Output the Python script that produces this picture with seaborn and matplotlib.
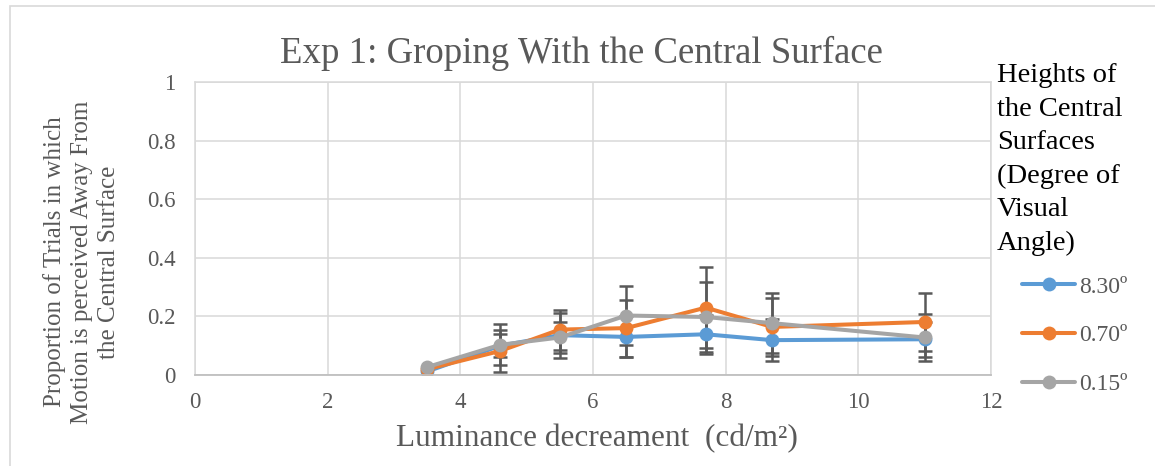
import numpy as np
import pandas as pd
import matplotlib
matplotlib.use("Agg")
import matplotlib.pyplot as plt
from matplotlib.patches import Rectangle
from matplotlib.ticker import FuncFormatter
import seaborn as sns

# Luminance decrement levels (cd/m^2)
luminance = [3.5, 4.6, 5.5, 6.5, 7.7, 8.7, 11.0]

# Proportion of "away" responses and their error bars, one array per surface height
away_830 = [0.012, 0.100, 0.136, 0.130, 0.139, 0.119, 0.122]
err_830 = [0.0, 0.040, 0.077, 0.070, 0.066, 0.072, 0.060]
away_070 = [0.020, 0.082, 0.155, 0.160, 0.230, 0.164, 0.181]
err_070 = [0.0, 0.072, 0.068, 0.097, 0.139, 0.098, 0.098]
away_015 = [0.027, 0.103, 0.128, 0.203, 0.198, 0.177, 0.128]
err_015 = [0.0, 0.070, 0.054, 0.102, 0.121, 0.103, 0.080]

series_names = ["8.30º", "0.70º", "0.15º"]
series_colors = ["#5B9BD5", "#ED7D31", "#A5A5A5"]

x_ticks = [0, 2, 4, 6, 8, 10, 12]
y_ticks = [0, 0.2, 0.4, 0.6, 0.8, 1.0]

title = "Exp 1: Groping With the Central Surface"
x_label = "Luminance decreament  (cd/m²)"
y_label = "Proportion of Trials in which\nMotion is perceived Away From\nthe Central Surface"
legend_title = "Heights of\nthe Central\nSurfaces\n(Degree of\nVisual\nAngle)"

# Long-form table for seaborn
values = [away_830, away_070, away_015]
errors = [err_830, err_070, err_015]
df = pd.DataFrame({
    "luminance": luminance * 3,
    "proportion": away_830 + away_070 + away_015,
    "height": sum([[n] * len(luminance) for n in series_names], []),
})

sns.set_theme(style="white")
plt.rcParams["font.family"] = ["Liberation Serif", "DejaVu Serif"]

TEXT_GRAY = "#595959"
GRID_GRAY = "#D9D9D9"

fig = plt.figure(figsize=(11.55, 4.66), dpi=100)
ax = fig.add_axes([195 / 1155, 1 - 375 / 466, (991 - 195) / 1155, (375 - 82) / 466])

# Error bars sit underneath the series lines
for ys, es in zip(values, errors):
    xs_arr = np.asarray(luminance)
    ys_arr = np.asarray(ys)
    es_arr = np.asarray(es)
    m = es_arr > 0
    ax.errorbar(xs_arr[m], ys_arr[m], yerr=es_arr[m], fmt="none",
                ecolor=TEXT_GRAY, elinewidth=1.8, capsize=4.8, capthick=1.8,
                zorder=1.5)

sns.lineplot(data=df, x="luminance", y="proportion", hue="height",
             hue_order=series_names, palette=series_colors,
             marker="o", markersize=10, markeredgewidth=0, linewidth=2.9,
             ax=ax, zorder=2)

ax.set_xlim(0, 12)
ax.set_ylim(0, 1)
ax.set_xticks(x_ticks)
ax.set_yticks(y_ticks)
ax.yaxis.set_major_formatter(FuncFormatter(lambda v, p: f"{v:g}"))
ax.grid(True, color=GRID_GRAY, linewidth=1.1)
ax.set_axisbelow(True)
for side in ["top", "right", "left"]:
    ax.spines[side].set_color(GRID_GRAY)
    ax.spines[side].set_linewidth(1.1)
ax.spines["bottom"].set_color("#BFBFBF")
ax.spines["bottom"].set_linewidth(1.3)
ax.tick_params(axis="both", length=0, labelsize=16.5, labelcolor=TEXT_GRAY)
ax.tick_params(axis="y", pad=14)
ax.tick_params(axis="x", pad=12)

ax.set_xlabel(x_label, fontsize=22.5, color=TEXT_GRAY)
ax.xaxis.set_label_coords(0.505, -0.168)
ax.set_ylabel(y_label, fontsize=18, color=TEXT_GRAY, linespacing=1.3)
ax.yaxis.label.set_va("center")
ax.yaxis.set_label_coords(-0.143, 0.386)

fig.text(581 / 1155, 1 - 63 / 466, title, ha="center", va="baseline",
         fontsize=26.5, color=TEXT_GRAY)

# Legend: title block plus series entries
fig.text(997 / 1155, 1 - 63 / 466, legend_title, ha="left", va="top",
         fontsize=20.5, color="black", linespacing=1.45)
sns.move_legend(ax, "upper left", bbox_to_anchor=(1022 / 1155, 1 - 276 / 466),
                bbox_transform=fig.transFigure, title=None, frameon=False,
                fontsize=17, labelcolor=TEXT_GRAY, handlelength=2.25,
                handletextpad=0.15, labelspacing=1.15, borderpad=0,
                borderaxespad=0)

# Outer chart frame
fig.add_artist(Rectangle((10 / 1155, -0.05), 1.2, 1 - 6 / 466 + 0.05,
                         transform=fig.transFigure, fill=False,
                         edgecolor=GRID_GRAY, linewidth=1.2))

fig.savefig("out.png", dpi=100)
